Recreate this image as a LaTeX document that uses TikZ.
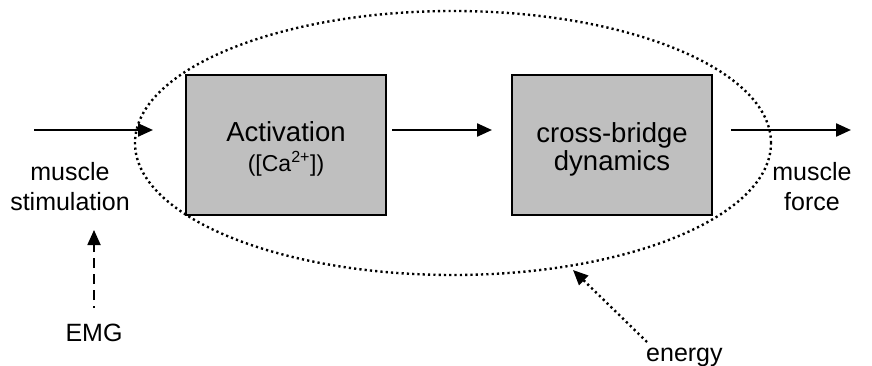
\documentclass[tikz,border=0pt]{standalone}
\usepackage{fontspec}
\setmainfont{Liberation Sans}
\usetikzlibrary{arrows.meta}

% strut that lowers the text block inside a box a little
\newcommand{\toproom}{\rule{0pt}{28pt}}

\begin{document}
\begin{tikzpicture}[x=1pt,y=1pt,
  lbl/.style={font=\fontsize{25}{29}\selectfont, align=center, inner sep=0pt},
  block/.style={draw=black, line width=2.6pt, fill=black!25, minimum width=200pt,
                minimum height=140pt, inner sep=0pt, align=center,
                font=\fontsize{27.5}{28}\selectfont},
  tip/.style={-{Triangle[length=15pt,width=13pt]}},
  flow/.style={line width=2.3pt, tip},
  emgline/.style={line width=1.8pt, dash pattern=on 10pt off 6pt, dash phase=8pt, tip},
  energyline/.style={line width=2.4pt, dash pattern=on 2.2pt off 3.2pt, tip},
  envelope/.style={line width=2.4pt, dash pattern=on 2.2pt off 3.1pt}
]
\useasboundingbox (0,0) rectangle (872,-366);

% dotted envelope around the two muscle blocks
\draw[envelope] (453,-143) ellipse [x radius=318, y radius=132];

% the two blocks
\node[block] (act) at (286,-145) {\toproom Activation\\[2pt]{\fontsize{23}{24}\selectfont ([Ca\textsuperscript{2+}])}};
\node[block] (xb)  at (612,-145) {\toproom cross-bridge\\dynamics};

% free ends of the main signal path
\coordinate (inA)  at (34,-130);
\coordinate (inB)  at (153,-130);
\coordinate (midA) at (392,-130);
\coordinate (midB) at (492,-130);
\coordinate (outA) at (731,-130);
\coordinate (outB) at (851,-130);

\draw[flow] (inA) -- (inB);
\draw[flow] (midA) -- (midB);
\draw[flow] (outA) -- (outB);

% labels (base anchor sits on the last line)
\node[lbl, anchor=base] (stim)  at (70,-210) {muscle\\stimulation};
\node[lbl, anchor=base] (force) at (812,-210) {muscle\\force};
\node[lbl, anchor=base] (emg)   at (94,-341) {EMG};
\node[lbl, anchor=base west] (energy) at (646,-361) {energy};

% auxiliary inputs
\coordinate (emgTop) at (94,-230);
\coordinate (emgBot) at (94,-308);
\draw[emgline] (emgBot) -- (emgTop);

\coordinate (enTail) at (647,-342);
\coordinate (enTip)  at (573,-270);
\draw[energyline] (enTail) -- (enTip);
\end{tikzpicture}
\end{document}
